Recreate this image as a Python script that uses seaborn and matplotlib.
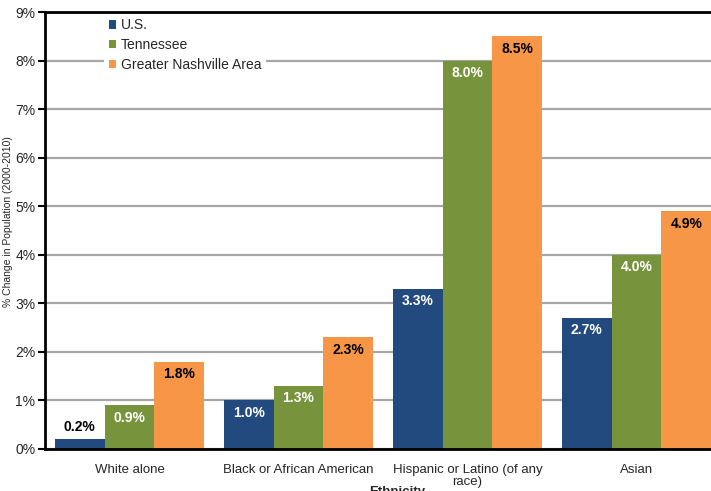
import matplotlib
matplotlib.use("Agg")
import matplotlib.pyplot as plt
import seaborn as sns
import pandas as pd

CATEGORIES = ["White alone", "Black or African American",
              "Hispanic or Latino (of any\nrace)", "Asian"]
SERIES = ["U.S.", "Tennessee", "Greater Nashville Area"]
US = [0.2, 1.0, 3.3, 2.7]
TENNESSEE = [0.9, 1.3, 8.0, 4.0]
NASHVILLE = [1.8, 2.3, 8.5, 4.9]
COLORS = ["#234A7E", "#77933C", "#F79646"]

rows = []
for name, vals in zip(SERIES, (US, TENNESSEE, NASHVILLE)):
    for cat, v in zip(CATEGORIES, vals):
        rows.append({"Ethnicity": cat, "series": name, "value": v})
df = pd.DataFrame(rows)

sns.set_style("white")
plt.rcParams["font.family"] = ["Liberation Sans", "DejaVu Sans"]

fig = plt.figure(figsize=(7.11, 4.91), dpi=100)
ax = fig.add_axes([45 / 711, 1 - 449 / 491, 676 / 711, 437 / 491])

sns.barplot(data=df, x="Ethnicity", y="value", hue="series", order=CATEGORIES,
            hue_order=SERIES, palette=COLORS, width=0.885, saturation=1,
            errorbar=None, linewidth=0, edgecolor="none", ax=ax, zorder=2)

# value labels
for i, cont in enumerate(ax.containers):
    for bar in cont:
        h = bar.get_height()
        x = bar.get_x() + bar.get_width() / 2
        if h < 0.5:
            ax.annotate(f"{h:.1f}%", (x, h), xytext=(0, 9), textcoords="offset points",
                        ha="center", va="center", fontsize=10, fontweight="bold", color="black")
        else:
            ax.annotate(f"{h:.1f}%", (x, h), xytext=(0, -9), textcoords="offset points",
                        ha="center", va="center", fontsize=10, fontweight="bold",
                        color="black" if i == 2 else "white")

ax.set_ylim(0, 9)
ax.set_xlim(-0.5, 3.5)
ax.set_yticks(range(10))
ax.set_yticklabels([f"{t}%" for t in range(10)], fontsize=10)
ax.yaxis.grid(True, color="#A6A6A6", linewidth=1.6)
ax.set_axisbelow(True)

ax.set_xticks(range(4))
ax.set_xticklabels(CATEGORIES, fontsize=9.5, linespacing=1.0)
ax.set_xticks([-0.5, 0.5, 1.5, 2.5, 3.5], minor=True)
ax.tick_params(axis="x", which="major", length=0, pad=11)
ax.tick_params(axis="x", which="minor", length=5, width=1.5, direction="out", color="black")
ax.tick_params(axis="y", length=5, width=1.5, direction="out", color="black", left=True, pad=2)

for s in ["left", "top", "bottom", "right"]:
    ax.spines[s].set_color("black")
    ax.spines[s].set_linewidth(2)

ax.set_xlabel("Ethnicity", fontsize=9.5, fontweight="bold")
ax.xaxis.set_label_coords((397 - 45) / 676, -0.085)
ax.set_ylabel("% Change in Population (2000-2010)", fontsize=7.5)
ax.yaxis.set_label_coords(-0.048, 0.52)

leg = ax.legend(loc="upper left", bbox_to_anchor=(0.088, 0.995), fontsize=10,
                handlelength=0.55, handleheight=0.55, handletextpad=0.35,
                labelspacing=0.42, frameon=True, framealpha=1, borderpad=0.3,
                borderaxespad=0)
leg.get_frame().set_edgecolor("none")
leg.get_frame().set_facecolor("white")
leg.get_frame().set_boxstyle("square", pad=0)

fig.savefig("out.png", dpi=100)
